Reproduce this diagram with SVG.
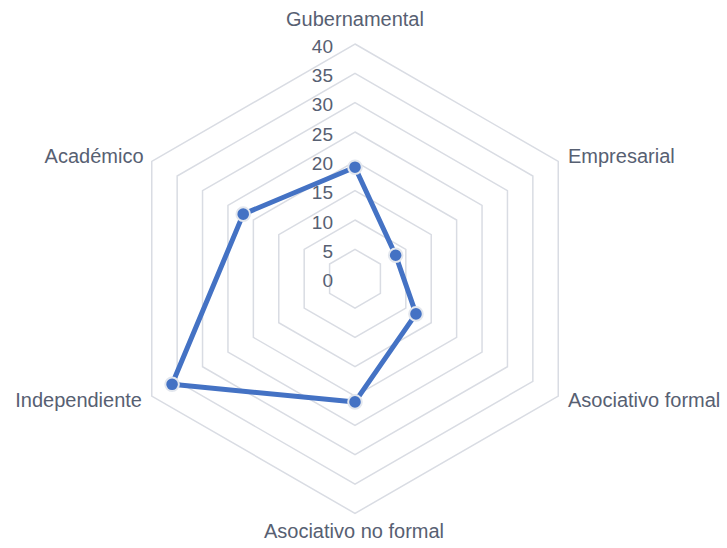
<svg xmlns="http://www.w3.org/2000/svg" width="727" height="548" viewBox="0 0 727 548">
<style>
.ring{fill:none;stroke:#D9DCE3;stroke-width:1.5}
.lbl{font-family:"Liberation Sans",Arial,sans-serif;font-size:20px;fill:#576072}
.tick{font-family:"Liberation Sans",Arial,sans-serif;font-size:19px;fill:#576072;text-anchor:end}
.series{fill:none;stroke:#4472C4;stroke-width:5;stroke-linejoin:round}
.mk{fill:#4472C4;stroke:#E3E7EE;stroke-width:2}
</style>
<rect width="727" height="548" fill="#FFFFFF"/>
<g id="grid">
<polygon class="ring" points="355,249.36 380.41,264.03 380.41,293.37 355,308.04 329.59,293.37 329.59,264.03"/>
<polygon class="ring" points="355,220.02 405.82,249.36 405.82,308.04 355,337.38 304.18,308.04 304.18,249.36"/>
<polygon class="ring" points="355,190.69 431.22,234.7 431.22,322.7 355,366.71 278.78,322.7 278.78,234.7"/>
<polygon class="ring" points="355,161.35 456.63,220.02 456.63,337.38 355,396.05 253.37,337.38 253.37,220.02"/>
<polygon class="ring" points="355,132.01 482.04,205.36 482.04,352.04 355,425.39 227.96,352.04 227.96,205.36"/>
<polygon class="ring" points="355,102.67 507.45,190.69 507.45,366.71 355,454.73 202.55,366.71 202.55,190.69"/>
<polygon class="ring" points="355,73.34 532.85,176.02 532.85,381.38 355,484.06 177.15,381.38 177.15,176.02"/>
<polygon class="ring" points="355,44 558.25,161.35 558.25,396.05 355,513.4 151.75,396.05 151.75,161.35"/>
</g>
<g id="ticks">
<text class="tick" x="333" y="287.4">0</text>
<text class="tick" x="333" y="258">5</text>
<text class="tick" x="333" y="228.7">10</text>
<text class="tick" x="333" y="199.4">15</text>
<text class="tick" x="333" y="170">20</text>
<text class="tick" x="333" y="140.7">25</text>
<text class="tick" x="333" y="111.4">30</text>
<text class="tick" x="333" y="82">35</text>
<text class="tick" x="333" y="52.7">40</text>
</g>
<g id="connectors">
<polygon class="series" points="355,167.22 395.65,255.23 415.98,313.9 355,401.92 172.07,384.32 243.21,214.16"/>
</g>
<g id="node-gubernamental">
<circle class="mk" cx="355" cy="167.22" r="6.8"/>
<text class="lbl" x="355" y="26" text-anchor="middle">Gubernamental</text>
</g>
<g id="node-empresarial">
<circle class="mk" cx="395.65" cy="255.23" r="6.8"/>
<text class="lbl" x="568" y="163.3">Empresarial</text>
</g>
<g id="node-asociativo-formal">
<circle class="mk" cx="415.98" cy="313.9" r="6.8"/>
<text class="lbl" x="568" y="407.3">Asociativo formal</text>
</g>
<g id="node-asociativo-no-formal">
<circle class="mk" cx="355" cy="401.92" r="6.8"/>
<text class="lbl" x="354" y="538.3" text-anchor="middle">Asociativo no formal</text>
</g>
<g id="node-independiente">
<circle class="mk" cx="172.07" cy="384.32" r="6.8"/>
<text class="lbl" x="142" y="407.3" text-anchor="end">Independiente</text>
</g>
<g id="node-academico">
<circle class="mk" cx="243.21" cy="214.16" r="6.8"/>
<text class="lbl" x="143.5" y="162.7" text-anchor="end">Académico</text>
</g>
</svg>
